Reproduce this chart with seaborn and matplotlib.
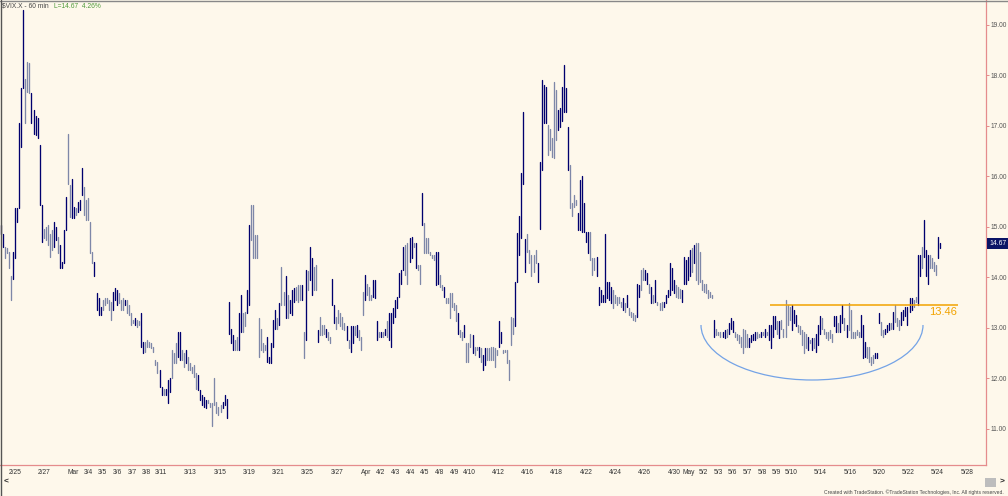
import numpy as np
import pandas as pd
import matplotlib
matplotlib.use("Agg")
import matplotlib.pyplot as plt
import matplotlib.transforms as mtrans
from matplotlib.patches import Arc, Rectangle
from matplotlib.lines import Line2D
import seaborn as sns

# ==================== DATA: $VIX.X 60 min bars, 2/22 - 5/24 ====================
# bars are listed in time order; highs / lows
highs = [
    # 2/22 - 3/15
    15.04, 14.87, 14.61, 14.58, 14.51, 14.02, 14.51, 15.37, 15.37, 17.05,
    17.75, 19.30, 17.94, 18.27, 18.24, 17.65, 17.32, 17.19, 17.15, 16.62,
    15.44, 14.97, 15.00, 15.04, 14.87, 14.94, 15.10, 15.00, 14.81, 14.64,
    14.31, 14.94, 15.60, 16.85, 15.83, 15.96, 15.40, 15.37, 15.50, 15.53,
    16.16, 15.80, 15.53, 15.57, 15.10, 14.51, 14.31, 13.69, 13.59, 13.42,
    13.55, 13.59, 13.59, 13.55, 13.52, 13.72, 13.79, 13.75, 13.69, 13.55,
    13.59, 13.55, 13.55, 13.46, 13.29, 13.16, 13.19, 13.16, 13.13, 13.29,
    12.73, 12.73, 12.76, 12.73, 12.70, 12.63, 12.37, 12.33, 12.17, 11.84,
    11.80, 11.80, 11.97, 12.00, 12.56, 12.50, 12.70, 12.93, 12.93, 12.56,
    12.50, 12.56, 12.43, 12.30, 12.23, 12.27, 12.10, 12.07, 11.77, 11.67,
    11.64, 11.57, 11.57, 11.51, 11.51, 12.00, 11.54, 11.44, 11.47, 11.54,
    11.67, 11.60,
    # 3/18 - 4/15
    13.52, 12.99, 12.86, 12.76, 12.83, 13.29, 13.65, 13.29, 13.32, 13.75,
    15.04, 15.44, 15.44, 14.84, 14.84, 13.19, 12.99, 12.70, 12.66, 12.83,
    12.43, 12.70, 13.16, 13.36, 13.19, 13.49, 14.21, 13.72, 14.02, 13.65,
    13.55, 13.75, 13.79, 13.82, 13.85, 13.85, 13.85, 12.93, 14.15, 14.12,
    14.61, 14.38, 14.21, 14.25, 12.96, 13.22, 13.06, 13.06, 12.99, 12.93,
    12.83, 13.98, 13.46, 13.22, 13.36, 13.29, 13.22, 13.09, 13.03, 12.76,
    13.03, 13.03, 13.03, 13.06, 12.96, 12.83, 13.72, 14.05, 13.88, 13.82,
    13.65, 13.95, 13.95, 13.13, 12.93, 12.93, 12.93, 12.99, 13.13, 13.29,
    13.29, 13.39, 13.55, 13.62, 14.08, 14.15, 14.61, 14.64, 14.68, 14.78,
    14.81, 14.68, 14.68, 14.25, 14.25, 15.67, 15.07, 14.78, 14.78, 14.51,
    14.45, 14.45, 14.51, 14.51, 14.05, 13.85, 13.82, 13.59, 13.59, 13.69,
    13.69, 13.49, 13.46, 13.29, 12.96, 12.93, 13.06, 12.70, 12.70, 12.89,
    12.86, 12.63, 12.63, 12.63, 12.60, 12.47, 12.60, 12.60, 12.60, 12.63,
    12.63, 12.60, 12.57, 13.13, 12.93, 12.57, 12.57, 12.57, 12.37, 13.22,
    13.19, 13.92, 14.88, 15.21, 16.06, 17.28,
    # 4/16 - 5/2
    14.77, 14.87, 14.54, 14.45, 14.45, 14.54, 14.28, 16.29, 17.91, 17.81,
    17.78, 17.02, 16.95, 16.76, 17.88, 17.71, 17.32, 17.35, 17.78, 18.21,
    17.75, 16.99, 16.23, 15.47, 15.63, 15.53, 15.27, 15.93, 16.00, 15.47,
    14.91, 14.91, 14.91, 14.38, 14.38, 14.41, 13.82, 13.75, 13.65, 14.87,
    13.92, 13.92, 13.82, 13.75, 13.65, 13.62, 13.62, 13.52, 13.59, 13.49,
    13.65, 13.39, 13.32, 13.29, 13.26, 13.88, 13.85, 14.15, 14.18, 14.15,
    14.08, 13.88, 13.82, 13.65, 13.95, 13.52, 13.49, 13.52, 13.52, 13.65,
    13.75, 14.28, 14.18, 13.95, 13.85, 13.82, 13.78, 13.75, 14.41, 14.35,
    14.41, 14.54, 14.58, 14.64, 14.68, 14.68, 14.51, 13.95, 13.88, 13.88,
    13.75, 13.72, 13.65,
    # 5/3 - 5/24
    13.16, 12.99, 12.93, 12.93, 12.93, 12.96, 12.99, 13.09, 13.19, 13.13,
    12.93, 12.89, 12.86, 12.83, 12.99, 12.96, 12.89, 12.80, 12.86, 12.89,
    12.93, 12.93, 12.89, 12.93, 12.93, 12.99, 12.93, 13.06, 13.06, 13.23,
    13.23, 13.13, 13.13, 13.16, 12.99, 13.55, 13.45, 13.42, 13.45, 13.36,
    13.26, 13.06, 13.03, 12.96, 12.93, 12.89, 12.83, 12.76, 12.80, 12.80,
    12.89, 13.06, 13.23, 13.19, 12.99, 12.93, 12.93, 12.96, 12.89, 13.23,
    13.23, 13.09, 13.26, 13.45, 13.19, 13.06, 13.49, 13.36, 12.93, 12.93,
    12.96, 12.93, 13.26, 13.06, 12.73, 12.63, 12.63, 12.43, 12.47, 12.50,
    12.50, 13.29, 13.12, 12.96, 12.99, 13.06, 13.09, 13.09, 13.32, 13.45,
    13.19, 13.16, 13.32, 13.36, 13.42, 13.42, 13.59, 13.59, 13.55, 13.62,
    14.45, 14.45, 14.61, 15.14, 14.54, 14.45, 14.45, 14.38, 14.31, 14.25,
    14.81, 14.68,
]

lows = [
    # 2/22 - 3/15
    14.87, 14.61, 14.38, 14.48, 14.18, 13.55, 13.98, 14.38, 15.10, 15.37,
    16.59, 17.75, 17.05, 17.68, 17.65, 17.05, 16.85, 16.82, 16.76, 15.44,
    14.71, 14.78, 14.74, 14.64, 14.41, 14.54, 14.61, 14.74, 14.48, 14.18,
    14.18, 14.28, 14.94, 15.86, 15.20, 15.17, 15.17, 15.24, 15.30, 15.33,
    15.63, 15.24, 15.14, 15.14, 14.48, 14.28, 14.02, 13.36, 13.26, 13.26,
    13.36, 13.46, 13.49, 13.36, 13.16, 13.36, 13.55, 13.46, 13.49, 13.36,
    13.36, 13.46, 13.29, 13.26, 13.06, 13.09, 13.06, 13.02, 13.06, 12.63,
    12.50, 12.53, 12.63, 12.63, 12.60, 12.53, 12.27, 12.10, 11.84, 11.67,
    11.67, 11.67, 11.51, 11.74, 12.00, 12.30, 12.30, 12.43, 12.37, 12.37,
    12.23, 12.30, 12.17, 12.17, 12.10, 12.03, 11.80, 11.77, 11.57, 11.47,
    11.44, 11.41, 11.51, 11.44, 11.05, 11.47, 11.31, 11.28, 11.34, 11.41,
    11.47, 11.21,
    # 3/18 - 4/15
    12.89, 12.70, 12.57, 12.57, 12.57, 12.57, 12.93, 12.93, 13.03, 13.29,
    13.46, 14.74, 14.38, 14.38, 14.38, 12.43, 12.57, 12.53, 12.57, 12.33,
    12.30, 12.30, 12.63, 12.99, 12.99, 13.06, 13.46, 13.46, 13.19, 13.19,
    13.29, 13.26, 13.52, 13.55, 13.52, 13.55, 13.55, 12.40, 12.76, 13.75,
    13.95, 13.65, 13.75, 13.75, 12.73, 12.86, 12.86, 12.89, 12.83, 12.76,
    12.70, 13.46, 13.09, 12.99, 13.09, 13.03, 12.99, 12.96, 12.76, 12.60,
    12.53, 12.70, 12.86, 12.83, 12.76, 12.57, 13.26, 13.55, 13.65, 13.55,
    13.55, 13.62, 13.59, 12.76, 12.83, 12.83, 12.83, 12.86, 12.83, 12.76,
    12.63, 13.09, 13.22, 13.39, 13.62, 13.88, 14.15, 14.05, 13.88, 14.31,
    14.38, 14.61, 14.18, 14.15, 13.88, 15.04, 14.48, 14.48, 14.48, 14.45,
    14.38, 14.35, 13.85, 13.88, 13.82, 13.75, 13.62, 13.49, 13.49, 13.19,
    13.42, 13.36, 13.13, 12.89, 12.83, 12.76, 12.83, 12.33, 12.33, 12.63,
    12.50, 12.47, 12.57, 12.43, 12.33, 12.17, 12.27, 12.37, 12.37, 12.37,
    12.37, 12.23, 12.47, 12.63, 12.70, 12.50, 12.53, 12.30, 11.97, 12.66,
    12.89, 13.03, 13.92, 14.45, 14.78, 15.86,
    # 4/16 - 5/2
    14.11, 14.51, 14.28, 14.02, 14.11, 14.28, 13.92, 14.97, 16.13, 17.05,
    17.05, 16.43, 16.52, 16.39, 16.36, 16.72, 16.92, 16.99, 17.09, 17.28,
    17.28, 16.13, 15.37, 15.21, 15.40, 15.44, 14.94, 14.94, 14.91, 14.91,
    14.71, 14.48, 14.35, 14.05, 14.15, 14.02, 13.46, 13.52, 13.52, 13.52,
    13.59, 13.55, 13.49, 13.39, 13.49, 13.45, 13.49, 13.42, 13.36, 13.32,
    13.42, 13.26, 13.22, 13.16, 13.13, 13.22, 13.62, 13.75, 13.95, 13.95,
    13.88, 13.69, 13.49, 13.49, 13.52, 13.45, 13.36, 13.36, 13.42, 13.49,
    13.62, 13.65, 13.75, 13.69, 13.62, 13.59, 13.59, 13.52, 13.88, 13.88,
    13.95, 14.02, 14.11, 14.28, 13.95, 13.88, 13.91, 13.75, 13.72, 13.69,
    13.59, 13.62, 13.59,
    # 5/3 - 5/24
    12.83, 12.86, 12.86, 12.83, 12.83, 12.80, 12.83, 12.89, 12.99, 12.93,
    12.83, 12.76, 12.70, 12.63, 12.50, 12.63, 12.63, 12.63, 12.73, 12.76,
    12.76, 12.80, 12.83, 12.83, 12.86, 12.83, 12.86, 12.76, 12.60, 12.83,
    12.99, 12.89, 12.80, 12.99, 12.83, 12.83, 13.06, 13.16, 12.96, 13.09,
    13.03, 12.93, 12.89, 12.66, 12.50, 12.60, 12.56, 12.70, 12.56, 12.60,
    12.53, 12.66, 12.89, 12.99, 12.89, 12.80, 12.76, 12.80, 12.73, 13.03,
    12.93, 12.93, 12.93, 13.09, 12.96, 12.83, 12.96, 12.80, 12.80, 12.80,
    12.86, 12.83, 12.83, 12.40, 12.43, 12.40, 12.33, 12.27, 12.30, 12.40,
    12.40, 13.09, 12.86, 12.83, 12.89, 12.93, 12.96, 12.99, 12.99, 13.12,
    13.03, 12.96, 13.06, 13.16, 13.23, 13.06, 13.32, 13.36, 13.42, 13.52,
    13.45, 14.02, 14.18, 14.41, 14.02, 13.88, 14.18, 14.18, 14.12, 14.05,
    14.38, 14.58,
]

# u = up bar (navy), d = down bar (grey)
dirs = "".join([
    "uudddduuuu", "uuddduuuuu", "uddddduudu", "uuudduuduu", "uddddduuuu",
    "ddddduuudd", "dudddduddu", "uddddddduu", "duuuddduud", "duddddduuu",
    "uudddddddu", "uu",
    "uuudduuddu", "uddddddddu", "uuuududdud", "uuudddudud", "uuddudddud",
    "duudddddud", "uududddudd", "duuudududu", "uuuuuuuddu", "ududdudddd",
    "dduudduddd", "dddudduddd", "udduduuddd", "ddduuddddd", "duuuuu",
    "uddddduuuu", "uddddduuuu", "uudddduuuu", "uuddduuuuu", "uuudddddud",
    "udddduuddu", "udududdduu", "uuuuddduuu", "uududddddd", "ddd",
    "uddduuduuu", "ddddddduuu", "uddududuuu", "ududdddduu", "udddddudud",
    "uuuddddddu", "uduududddd", "dduuuddddu", "uudduuudud", "dduuuuuudd",
    "uuduuudddd", "uu",
])

assert len(highs) == len(lows) == len(dirs), (len(highs), len(lows), len(dirs))

# date axis: label text and trading-day number counted from 2/25
date_labels = ["2/25", "2/27", "Mar", "3/4", "3/5", "3/6", "3/7", "3/8", "3/11",
               "3/13", "3/15", "3/19", "3/21", "3/25", "3/27", "Apr", "4/2",
               "4/3", "4/4", "4/5", "4/8", "4/9", "4/10", "4/12", "4/16", "4/18",
               "4/22", "4/24", "4/26", "4/30", "May", "5/2", "5/3", "5/6", "5/7",
               "5/8", "5/9", "5/10", "5/14", "5/16", "5/20", "5/22", "5/24", "5/28"]
date_days = [0, 2, 4, 5, 6, 7, 8, 9, 10, 12, 14, 16, 18, 20, 22, 24, 25, 26, 27,
             28, 29, 30, 31, 33, 35, 37, 39, 41, 43, 45, 46, 47, 48, 49, 50, 51,
             52, 53, 55, 57, 59, 61, 63, 65]
n_days = 66

last_price = 14.67
last_pct = 4.26
resistance = 13.46
y_ticks = [11, 12, 13, 14, 15, 16, 17, 18, 19]

# ==================== STYLE ====================
BG     = "#FEF8EB"
NAVY   = "#00006E"
GREY   = "#7E87A8"
AXIS   = "#E58C8C"
ORANGE = "#F2A300"
ARC    = "#74A3E6"

sns.set_style("white")
plt.rcParams["font.family"] = ["Liberation Sans", "DejaVu Sans"]

W, H = 1008, 496
fig = plt.figure(figsize=(W / 100, H / 100), dpi=100)
fig.patch.set_facecolor(BG)
ax = fig.add_axes([0, 31 / H, 986 / W, 465 / H])
ax.set_facecolor(BG)

n = len(highs)
ppb = (940 - 1) / (n - 1)          # pixels per bar
to_bar = lambda px: (px - 1) / ppb  # screen x (px) -> bar index

df = pd.DataFrame({
    "bar": np.repeat(np.arange(n), 2),
    "price": np.column_stack([lows, highs]).ravel(),
    "dir": np.repeat(list(dirs), 2),
})
for d, col, lw in [("d", GREY, 0.95), ("u", NAVY, 0.95)]:
    sns.lineplot(data=df[df["dir"] == d], x="bar", y="price", units="bar",
                 estimator=None, color=col, linewidth=lw, legend=False,
                 sort=False, ax=ax)

ax.set_xlim(to_bar(0), to_bar(986))
ax.set_ylim(19 - 440 / 50.5, 19 + 25 / 50.5)
ax.set_xlabel("")
ax.set_ylabel("")

# right price scale
ax.yaxis.tick_right()
ax.set_yticks(y_ticks)
ax.set_yticklabels([f"{v:.2f}" for v in y_ticks])
ax.tick_params(axis="y", direction="out", length=2, width=0.7, color=AXIS,
               labelsize=4.8, labelcolor="#555555", pad=1.5)

# date scale, one tick per trading day
day_pos = [to_bar(14.7 + 14.65 * d) for d in range(n_days)]
lab = {d: t for d, t in zip(date_days, date_labels)}
ax.set_xticks(day_pos)
ax.set_xticklabels([lab.get(d, "") for d in range(n_days)])
ax.tick_params(axis="x", direction="out", length=2.2, width=0.7, color=AXIS,
               labelsize=4.8, labelcolor="#333333", pad=1)

for s in ["left", "top"]:
    ax.spines[s].set_visible(False)
for s in ["right", "bottom"]:
    ax.spines[s].set_color(AXIS)
    ax.spines[s].set_linewidth(0.9)

# resistance line + label
ax.hlines(resistance, to_bar(770), to_bar(958), color=ORANGE, lw=1.1, zorder=3)
ax.text(to_bar(943), resistance - 0.135, f"{resistance:.2f}", color=ORANGE,
        fontsize=8, ha="center", va="center")

# rounded base drawn under May lows
ax.add_patch(Arc((to_bar(812), 19 - 300 / 50.5), 2 * 111 / ppb, 2 * 55 / 50.5,
                 theta1=180, theta2=360, color=ARC, lw=0.9, zorder=3))

# last price marker on the scale
trans = mtrans.blended_transform_factory(ax.transAxes, ax.transData)
ax.text(1 + 3 / 986, last_price, f"{last_price:.2f}", transform=trans,
        fontsize=4.9, color="white", ha="left", va="center", clip_on=False,
        bbox=dict(boxstyle="square,pad=0.25", fc="#0B1466", ec="none"))

# header
fig.text(2 / W, 1 - 6 / H, "$VIX.X - 60 min", fontsize=4.8, color="#444444",
         ha="left", va="center")
fig.text(54 / W, 1 - 6 / H, f"L={last_price:.2f}  {last_pct:.2f}%", fontsize=4.8,
         color="#4E9A3A", ha="left", va="center")

# footer / scroll widgets
fig.text(1004 / W, 4 / H,
         "Created with TradeStation. \u00a9TradeStation Technologies, Inc. All rights reserved.",
         fontsize=3.6, color="#444444", ha="right", va="center")
fig.text(4 / W, 1 - 482 / H, "<", fontsize=6, color="#222222", ha="left",
         va="center", weight="bold")
fig.text(1000 / W, 1 - 482 / H, ">", fontsize=6, color="#222222", ha="left",
         va="center", weight="bold")
fig.patches.append(Rectangle((985 / W, 1 - 487 / H), 11 / W, 9 / H,
                             transform=fig.transFigure, fc="#BDBDBD", ec="none"))

# window frame
fig.add_artist(Line2D([0, 1], [1 - 0.5 / H, 1 - 0.5 / H], color="#888888", lw=1))
fig.add_artist(Line2D([0.5 / W, 0.5 / W], [0, 1], color="#555555", lw=1))

fig.savefig("out.png", dpi=100, facecolor=BG)
